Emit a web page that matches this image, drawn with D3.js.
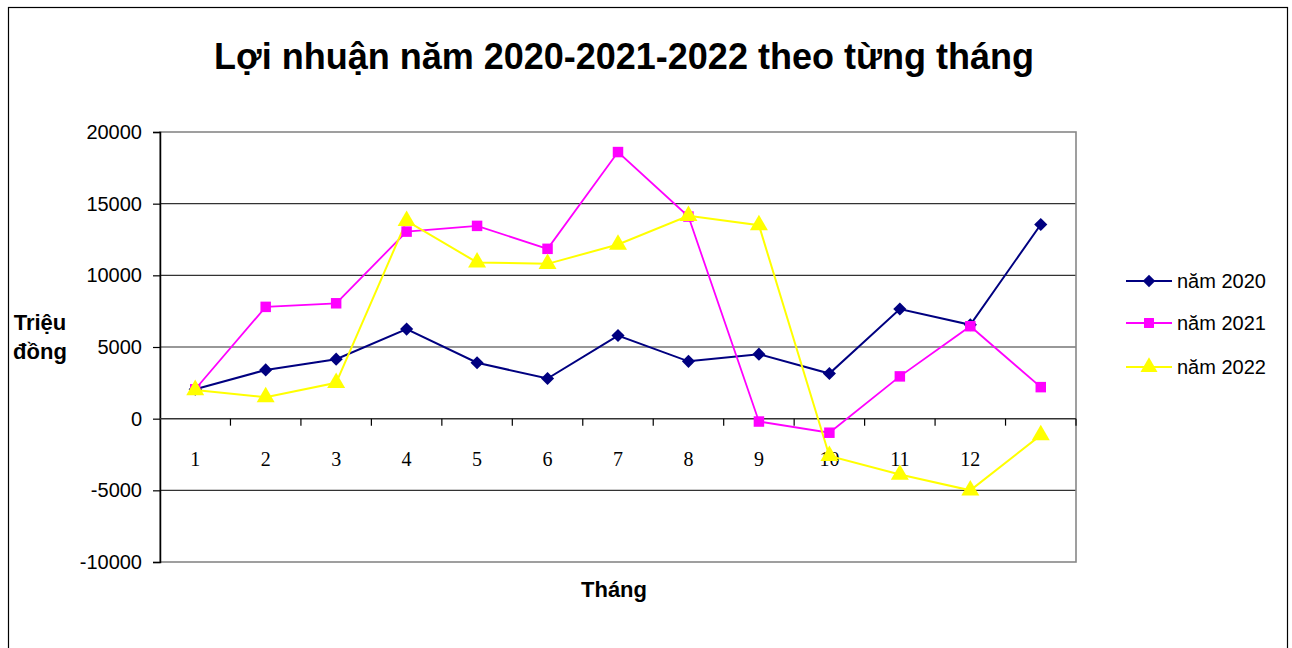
<!DOCTYPE html>
<html><head><meta charset="utf-8">
<script src="https://cdn.jsdelivr.net/npm/d3@7"></script>
<style>body{margin:0;background:#fff}svg{display:block}</style>
</head><body>
<svg id="c" width="1292" height="648"></svg>
<script>
const categories = ["1","2","3","4","5","6","7","8","9","10","11","12",""];
const seriesNames = ["năm 2020","năm 2021","năm 2022"];
const values2020 = [2050,3400,4150,6250,3900,2800,5800,4000,4500,3150,7650,6550,13550];
const values2021 = [2050,7800,8050,13050,13450,11850,18600,14100,-200,-980,2950,6450,2200];
const values2022 = [2000,1500,2500,13800,10900,10800,12150,14150,13500,-2600,-3900,-5000,-1150];
const yTicks = [-10000,-5000,0,5000,10000,15000,20000];
const title = "Lợi nhuận năm 2020-2021-2022 theo từng tháng";
const yTitle = ["Triệu","đồng"];
const xTitle = "Tháng";

const colors = ["#000080","#FF00FF","#FFFF00"];
const shapes = [d3.symbolDiamond2 || d3.symbolDiamond, d3.symbolSquare, d3.symbolTriangle];
const allSeries = [values2020, values2021, values2022];

const svg = d3.select("#c");
const L = 160, R = 1076, T = 132, B = 562;
const x = d3.scaleBand().domain(categories.map((c,i)=>i)).range([L,R]).padding(0);
const y = d3.scaleLinear().domain([-10000,20000]).range([B,T]);
const cx = i => x(i) + x.bandwidth()/2;
const SANS = "Liberation Sans, Arial, sans-serif";

// outer border
svg.append("rect").attr("x",8.5).attr("y",7.5).attr("width",1279).attr("height",700)
  .attr("fill","none").attr("stroke","#000").attr("stroke-width",1.2);

// title
svg.append("text").attr("x",624).attr("y",69).attr("text-anchor","middle")
  .attr("font-family",SANS).attr("font-weight","bold")
  .attr("font-size",36).text(title);

// gridlines
svg.append("g").selectAll("line").data(yTicks.filter(v=>v!==0 && v!==20000 && v!==-10000)).join("line")
  .attr("x1",L).attr("x2",R).attr("y1",d=>y(d)).attr("y2",d=>y(d))
  .attr("stroke","#333").attr("stroke-width",1.2);

// plot border (gray)
svg.append("rect").attr("x",L).attr("y",T).attr("width",R-L).attr("height",B-T)
  .attr("fill","none").attr("stroke","#888").attr("stroke-width",1.6);

// y axis
const yAxis = d3.axisLeft(y).tickValues(yTicks).tickSize(7).tickPadding(11).tickFormat(d=>String(d));
const gy = svg.append("g").attr("transform",`translate(${L},0)`).call(yAxis);
gy.select(".domain").attr("stroke","#000").attr("stroke-width",1.5);
gy.selectAll(".tick line").attr("stroke","#000").attr("stroke-width",1.2);
gy.selectAll(".tick text").attr("font-family",SANS)
  .attr("font-size",20).attr("fill","#000");

// x axis at zero
const y0 = y(0);
svg.append("line").attr("x1",L).attr("x2",R).attr("y1",y0).attr("y2",y0)
  .attr("stroke","#333").attr("stroke-width",1.5);
svg.append("g").selectAll("line").data(d3.range(1,14)).join("line")
  .attr("x1",i=>L+i*x.bandwidth()).attr("x2",i=>L+i*x.bandwidth())
  .attr("y1",y0).attr("y2",y0+7).attr("stroke","#000").attr("stroke-width",1.2);
svg.append("g").selectAll("text").data(categories).join("text")
  .attr("x",(d,i)=>cx(i)).attr("y",y0+47).attr("text-anchor","middle")
  .attr("font-family","Liberation Serif, Times New Roman, serif").attr("font-size",20)
  .text(d=>d);

// lines
const line = d3.line().x((d,i)=>cx(i)).y(d=>y(d));
const widths = [2,1.8,2];
allSeries.forEach((vals,si)=>{
  svg.append("path").datum(vals).attr("d",line).attr("fill","none")
    .attr("stroke",colors[si]).attr("stroke-width",widths[si]);
});
const sizes = [110,110,140];
allSeries.forEach((vals,si)=>{
  svg.append("g").selectAll("path").data(vals).join("path")
    .attr("transform",(d,i)=>`translate(${cx(i)},${y(d)})`)
    .attr("d",d3.symbol().type(shapes[si]).size(sizes[si]))
    .attr("fill",colors[si]);
});

// axis titles
svg.append("text").attr("x",614).attr("y",597).attr("text-anchor","middle")
  .attr("font-family",SANS).attr("font-weight","bold")
  .attr("font-size",22).text(xTitle);
svg.append("g").selectAll("text").data(yTitle).join("text")
  .attr("x",40).attr("y",(d,i)=>330+i*29).attr("text-anchor","middle")
  .attr("font-family",SANS).attr("font-weight","bold")
  .attr("font-size",22).text(d=>d);

// legend
const lg = svg.append("g");
const ly = [281,323,367];
seriesNames.forEach((n,i)=>{
  lg.append("line").attr("x1",1126).attr("x2",1172).attr("y1",ly[i]).attr("y2",ly[i])
    .attr("stroke",colors[i]).attr("stroke-width",widths[i]);
  lg.append("path").attr("transform",`translate(1149,${ly[i]})`)
    .attr("d",d3.symbol().type(shapes[i]).size(sizes[i]*0.9)).attr("fill",colors[i]);
  lg.append("text").attr("x",1177).attr("y",ly[i]+7).attr("font-family",SANS)
    .attr("font-size",20).text(n);
});
</script>
</body></html>
